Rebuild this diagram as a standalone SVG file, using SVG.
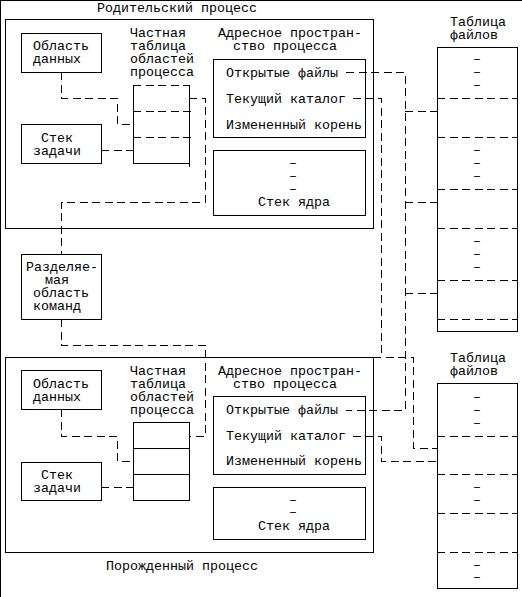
<svg xmlns="http://www.w3.org/2000/svg" width="522" height="597" viewBox="0 0 522 597">
<style>
rect, .s { fill: none; stroke: #000; stroke-width: 1; shape-rendering: crispEdges; }
.d { fill: none; stroke: #000; stroke-width: 1; stroke-dasharray: 8 4.5; shape-rendering: crispEdges; }
text { font-family: "Liberation Mono", "DejaVu Sans Mono", monospace; font-size: 13.33px; fill: #000; }
.m { text-anchor: middle; }
</style>
<rect x="0" y="0" width="522" height="597" fill="#fff" stroke="none"/>

<g id="parent-process">
  <rect x="5" y="19" width="368" height="209"/>
  <text x="97" y="12">Родительский процесс</text>
</g>
<g id="parent-data">
  <rect x="21" y="33" width="80" height="39"/>
  <text x="33" y="50">Область</text>
  <text x="33" y="63">данных</text>
</g>
<g id="parent-stack">
  <rect x="21" y="124" width="80" height="39"/>
  <text x="41" y="142">Стек</text>
  <text x="33" y="155">задачи</text>
</g>
<g id="parent-table">
  <text x="130" y="37">Частная</text>
  <text x="130" y="50">таблица</text>
  <text x="130" y="63">областей</text>
  <text x="130" y="76">процесса</text>
  <path class="d" d="M133,85 H189 M133,111 H193 M133,137 H193"/>
  <path class="s" d="M133,85 V163 H189 M189,85 V167"/>
</g>
<g id="parent-address">
  <text x="218" y="37">Адресное простран-</text>
  <text x="233" y="50">ство процесса</text>
  <rect x="213" y="59" width="152" height="78"/>
  <text x="226" y="77">Открытые файлы</text>
  <text x="226" y="103">Текущий каталог</text>
  <text x="226" y="129">Измененный корень</text>
</g>
<g id="parent-kernel">
  <rect x="213" y="150" width="152" height="65"/>
  <text class="m" x="293" y="167">–</text>
  <text class="m" x="293" y="180">–</text>
  <text class="m" x="293" y="193">–</text>
  <text x="258" y="206">Стек ядра</text>
</g>

<g id="shared-code">
  <rect x="21" y="254" width="80" height="65"/>
  <text x="26" y="271">Разделяе-</text>
  <text x="45" y="284">мая</text>
  <text x="33" y="297">область</text>
  <text x="33" y="310">команд</text>
</g>

<g id="child-process">
  <rect x="5" y="357" width="368" height="195"/>
  <text x="106" y="570">Порожденный процесс</text>
</g>
<g id="child-data">
  <rect x="21" y="370" width="80" height="39"/>
  <text x="33" y="388">Область</text>
  <text x="33" y="401">данных</text>
</g>
<g id="child-stack">
  <rect x="21" y="462" width="80" height="38"/>
  <text x="41" y="479">Стек</text>
  <text x="33" y="492">задачи</text>
</g>
<g id="child-table">
  <text x="130" y="375">Частная</text>
  <text x="130" y="388">таблица</text>
  <text x="130" y="401">областей</text>
  <text x="130" y="414">процесса</text>
  <rect x="133" y="422" width="56" height="78"/>
  <path class="s" d="M133,448 H189 M133,474 H189"/>
</g>
<g id="child-address">
  <text x="218" y="375">Адресное простран-</text>
  <text x="233" y="388">ство процесса</text>
  <rect x="213" y="396" width="152" height="78"/>
  <text x="226" y="414">Открытые файлы</text>
  <text x="226" y="440">Текущий каталог</text>
  <text x="226" y="465">Измененный корень</text>
</g>
<g id="child-kernel">
  <rect x="213" y="487" width="152" height="52"/>
  <text class="m" x="293" y="504">–</text>
  <text class="m" x="293" y="516">–</text>
  <text x="258" y="530">Стек ядра</text>
</g>

<g id="file-table-1">
  <text x="450" y="26">Таблица</text>
  <text x="450" y="39">файлов</text>
  <rect x="437" y="47" width="80" height="284"/>
  <path class="d" d="M437,98 H517 M437,137 H517 M437,189 H517 M437,228 H517 M437,280 H517 M437,319 H517"/>
  <text class="m" x="477" y="63">–</text>
  <text class="m" x="477" y="76">–</text>
  <text class="m" x="477" y="89">–</text>
  <text class="m" x="477" y="154">–</text>
  <text class="m" x="477" y="167">–</text>
  <text class="m" x="477" y="180">–</text>
  <text class="m" x="477" y="245">–</text>
  <text class="m" x="477" y="258">–</text>
  <text class="m" x="477" y="271">–</text>
</g>
<g id="file-table-2">
  <text x="450" y="362">Таблица</text>
  <text x="450" y="375">файлов</text>
  <rect x="437" y="383" width="80" height="205"/>
  <path class="d" d="M437,436 H517 M437,474 H517 M437,513 H517 M437,552 H517"/>
  <text class="m" x="477" y="401">–</text>
  <text class="m" x="477" y="414">–</text>
  <text class="m" x="477" y="427">–</text>
  <text class="m" x="477" y="491">–</text>
  <text class="m" x="477" y="504">–</text>
  <text class="m" x="477" y="569">–</text>
  <text class="m" x="477" y="581">–</text>
</g>

<g id="connectors">
  <path class="d" d="M61,72 V98 H117 V124 H133"/>
  <path class="d" d="M101,150 H133"/>
  <path class="d" d="M189,98 H205 V202 H61 V254"/>
  <path class="d" d="M61,319 V345 H205 V436 H189"/>
  <path class="d" d="M61,409 V436 H117 V461 H133"/>
  <path class="d" d="M101,487 H133"/>
  <path class="d" d="M346,72 H405 V410 H346"/>
  <path class="d" d="M405,111 H437"/>
  <path class="d" d="M405,202 H437"/>
  <path class="d" d="M405,293 H437"/>
  <path class="d" d="M353,98 H381 V357"/>
  <path class="d" d="M373,357 H413 V448 H437"/>
  <path class="d" d="M353,436 H381 V461 H437"/>
</g>
</svg>
